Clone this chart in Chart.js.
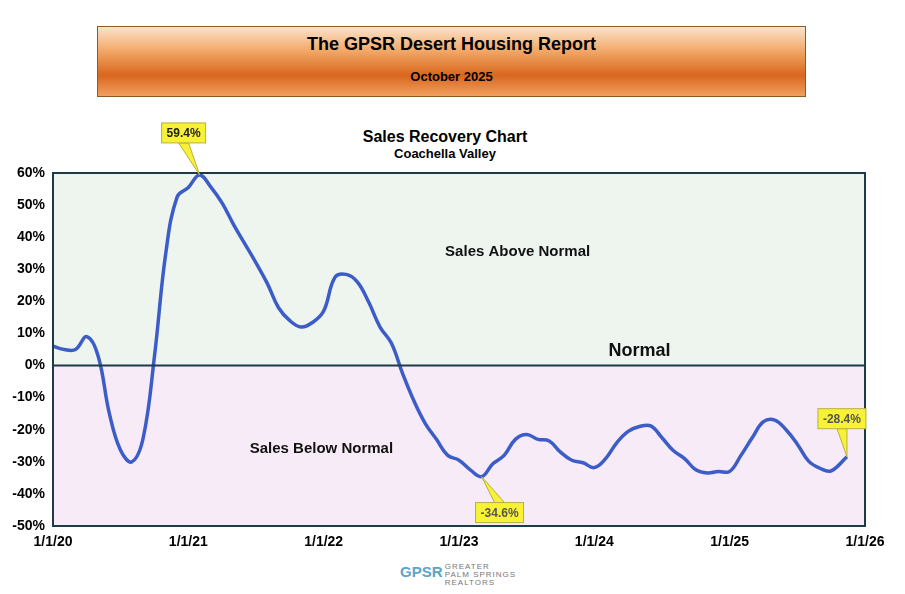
<!DOCTYPE html>
<html>
<head>
<meta charset="utf-8">
<script src="https://cdn.jsdelivr.net/npm/chart.js@4.4.1/dist/chart.umd.min.js"></script>
<style>
  body { margin: 0; width: 905px; height: 594px; background: #fff; font-family: "Liberation Sans", Arial, sans-serif; position: relative; overflow: hidden; }
  #header { position: absolute; left: 97px; top: 26px; width: 707px; height: 69px; border: 1px solid #8a5a2a;
    background: linear-gradient(to bottom, #fbe3cc 0%, #f2a766 35%, #d9661e 70%, #f0a060 100%); text-align: center; }
  #header .t1 { font-weight: bold; font-size: 18px; margin-top: 7px; }
  #header .t2 { font-weight: bold; font-size: 13px; margin-top: 14px; }
  #ctitle { position: absolute; left: 300px; width: 290px; top: 128px; text-align: center; font-weight: bold; }
  #ctitle .a { font-size: 16px; }
  #ctitle .b { font-size: 13px; }
  #logo { position: absolute; left: 400px; top: 563px; font-size: 8px; color: #777; }
  #logo .g { font-weight: bold; font-size: 15px; color: #5aa5c8; display: inline-block; vertical-align: top; }
  #logo .n { display: inline-block; letter-spacing: 1px; line-height: 8px; vertical-align: top; }
  canvas { position: absolute; left: 0; top: 0; }
</style>
</head>
<body>
<div id="header"><div class="t1">The GPSR Desert Housing Report</div><div class="t2">October 2025</div></div>
<div id="ctitle"><div class="a">Sales Recovery Chart</div><div class="b">Coachella Valley</div></div>
<div id="logo"><span class="g">GPSR</span> <span class="n">GREATER<br>PALM SPRINGS<br>REALTORS</span></div>
<canvas id="chart" width="905" height="594"></canvas>
<script>
// months since 1/1/20
const months = [0,1,2,3,4,5,6,7,8,9,10,11,12,13,14,15,16,17,18,19,20,21,22,23,24,25,26,27,28,29,30,31,32,33,34,35,
  36,37,38,39,40,41,42,43,44,45,46,47,48,49,50,51,52,53,54,55,56,57,58,59,60,61,62,63,64,65,66,67,68,69,70.4];
const salesPct = [6,5,5,9,3,-15,-26.5,-30,-22.5,3,35,52.5,55.5,59.4,55.6,50.6,44,38,32,25.6,18,14,12,13.4,17,27.5,28.4,26,19.7,12,7,-2.5,
  -11,-18,-23,-28,-29.5,-32.5,-34.6,-30.6,-28,-23,-21.5,-23,-23.5,-27,-29.5,-30.3,-31.8,-29,-24,-20.5,-19,-18.8,-22.5,-26.5,-29,-32.5,
  -33.5,-33,-33,-28,-22.5,-17.5,-17,-20,-24.5,-29.8,-32,-32.8,-28.4];
const yTicks = [-50,-40,-30,-20,-10,0,10,20,30,40,50,60];
const callouts = [
  { idx: 13, text: '59.4%', dx: -16, dy: -42 },
  { idx: 38, text: '-34.6%', dx: 18, dy: 36 },
  { idx: 70, text: '-28.4%', dx: -5, dy: -38 }
];

const overlay = {
  id: 'overlay',
  beforeDatasetsDraw(chart) {
    const { ctx, chartArea: a, scales: { x, y } } = chart;
    const y0 = y.getPixelForValue(0);
    ctx.save();
    ctx.fillStyle = '#eef5ee';
    ctx.fillRect(a.left, a.top, a.right - a.left, y0 - a.top);
    ctx.fillStyle = '#f6ebf6';
    ctx.fillRect(a.left, y0, a.right - a.left, a.bottom - y0);
    ctx.restore();
  },
  afterDatasetsDraw(chart) {
    const { ctx, chartArea: a, scales: { x, y } } = chart;
    const y0 = y.getPixelForValue(0);
    ctx.save();
    ctx.strokeStyle = '#1d3a48';
    ctx.lineWidth = 2;
    ctx.beginPath(); ctx.moveTo(a.left, y0); ctx.lineTo(a.right, y0); ctx.stroke();
    ctx.strokeRect(a.left, a.top, a.right - a.left, a.bottom - a.top);

    ctx.fillStyle = '#111';
    ctx.textAlign = 'center';
    ctx.textBaseline = 'middle';
    ctx.font = 'bold 15px "Liberation Sans", Arial';
    ctx.fillText('Sales Above Normal', x.getPixelForValue(41.2), y.getPixelForValue(35.5));
    ctx.fillText('Sales Below Normal', x.getPixelForValue(23.8), y.getPixelForValue(-26));
    ctx.font = 'bold 18px "Liberation Sans", Arial';
    ctx.fillText('Normal', x.getPixelForValue(52), y.getPixelForValue(4.5));

    ctx.font = 'bold 12px "Liberation Sans", Arial';
    callouts.forEach(c => {
      const px = x.getPixelForValue(months[c.idx]);
      const py = y.getPixelForValue(salesPct[c.idx]);
      const bx = px + c.dx, by = py + c.dy;
      const w = ctx.measureText(c.text).width + 10, h = 20;
      const top = c.dy < 0;
      ctx.fillStyle = '#f7f236';
      ctx.strokeStyle = '#b8b040';
      ctx.lineWidth = 1;
      ctx.beginPath();
      const edge = top ? by + h / 2 : by - h / 2;
      ctx.moveTo(bx - 5, edge); ctx.lineTo(px, py); ctx.lineTo(bx + 5, edge);
      ctx.closePath(); ctx.fill(); ctx.stroke();
      ctx.fillRect(bx - w / 2, by - h / 2, w, h);
      ctx.strokeRect(bx - w / 2, by - h / 2, w, h);
      ctx.fillStyle = c.idx === 13 ? '#222' : '#555';
      ctx.fillText(c.text, bx, by + 1);
    });
    ctx.restore();
  }
};

new Chart(document.getElementById('chart'), {
  type: 'line',
  data: {
    datasets: [{
      data: months.map((m, i) => ({ x: m, y: salesPct[i] })),
      borderColor: '#3c5cc8',
      borderWidth: 3.5,
      pointRadius: 0,
      tension: 0.4,
      fill: false
    }]
  },
  options: {
    responsive: false,
    animation: false,
    layout: { padding: { left: 0, top: 173, right: 40, bottom: 0 } },
    plugins: { legend: { display: false }, tooltip: { enabled: false } },
    scales: {
      x: {
        type: 'linear', min: 0, max: 72,
        afterBuildTicks: s => { s.ticks = []; for (let v = 0; v <= 72; v += 3) s.ticks.push({ value: v }); },
        afterFit: s => { s.height = 68; },
        grid: { color: '#d3dad3', lineWidth: 1, drawTicks: false },
        border: { display: false },
        ticks: {
          autoSkip: false, maxRotation: 0, padding: 8, color: '#000',
          font: { family: '"Liberation Sans", Arial', weight: 'bold', size: 14 },
          callback: v => v % 12 === 0 ? '1/1/' + (20 + v / 12) : ''
        }
      },
      y: {
        min: -50, max: 60,
        afterBuildTicks: s => { s.ticks = yTicks.map(v => ({ value: v })); },
        afterFit: s => { s.width = 53; },
        grid: { color: '#d3dad3', lineWidth: 1, drawTicks: false },
        border: { display: false },
        ticks: {
          padding: 8, color: '#000',
          font: { family: '"Liberation Sans", Arial', weight: 'bold', size: 14 },
          callback: v => v + '%'
        }
      }
    }
  },
  plugins: [overlay]
});
</script>
</body>
</html>
